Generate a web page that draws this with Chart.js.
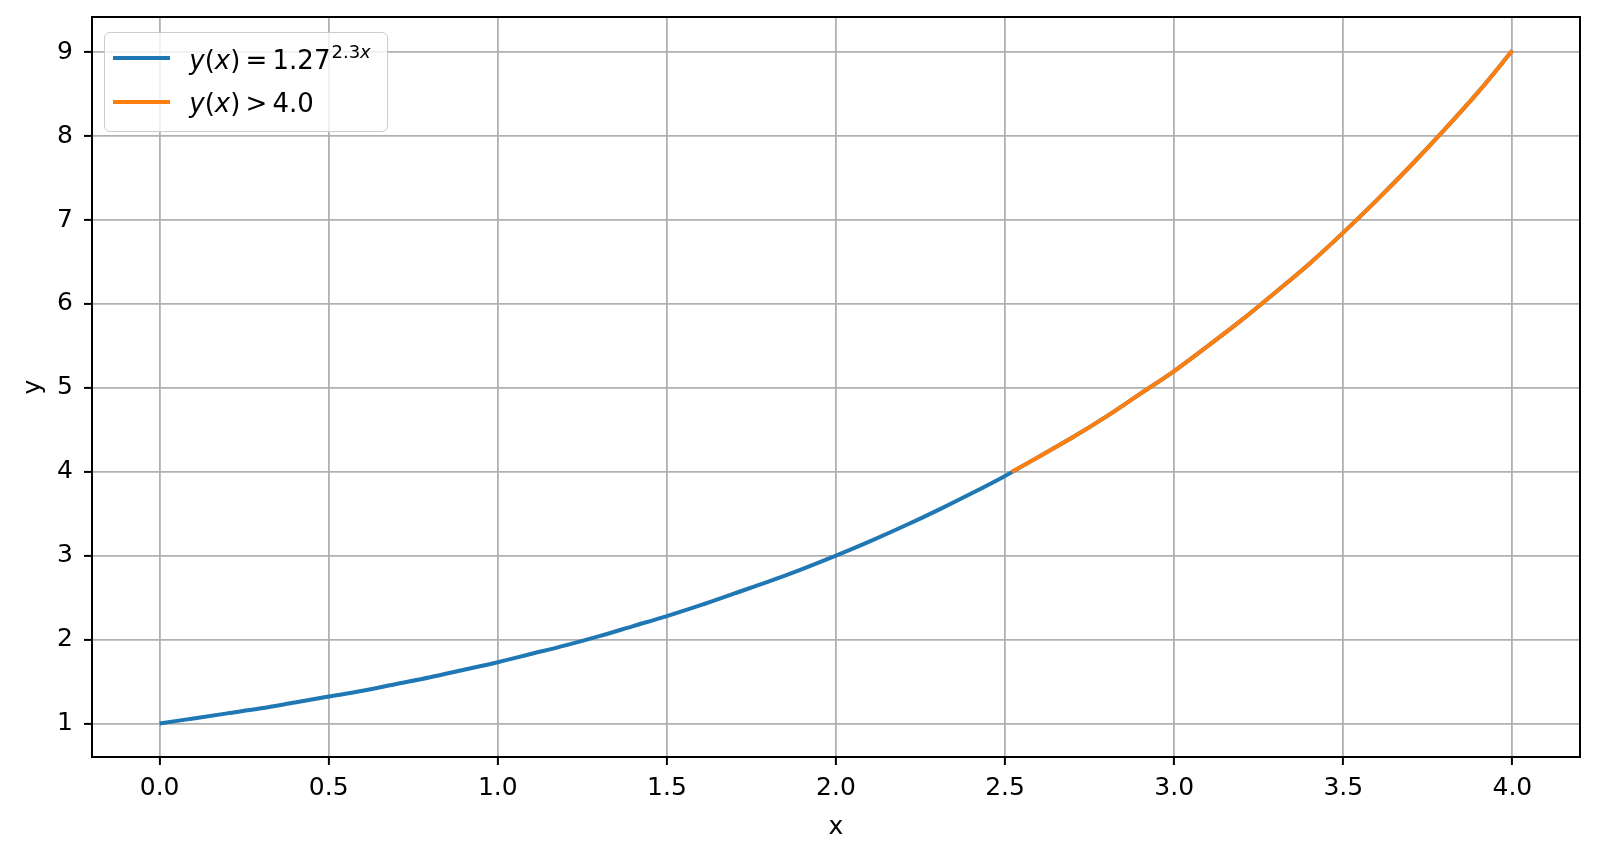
<!DOCTYPE html>
<html>
<head>
<meta charset="utf-8">
<script src="https://cdn.jsdelivr.net/npm/chart.js@4"></script>
<style>
  body { margin: 0; background: #fff; }
  #wrapper { position: relative; width: 1598px; height: 858px; }
  #legend {
    position: absolute; box-sizing: border-box;
    width: 284px; height: 100px;
    border: 1.7px solid #cccccc; border-radius: 6px;
    background: rgba(255, 255, 255, 0.8);
    font-family: "DejaVu Sans"; font-size: 26px; color: #000;
  }
  #legend .handle { position: absolute; left: 8.3px; width: 57px; height: 4px; }
  #legend .lbl { position: absolute; left: 84.3px; line-height: 30px; white-space: nowrap; }
  #legend sup { font-size: 18px; vertical-align: 0; position: relative; top: -11.7px; margin-left: 1px; }
</style>
</head>
<body>
<div id="wrapper">
  <canvas id="chart" width="1598" height="858"></canvas>
  <div id="legend"></div>
</div>
<script>
// curve y(x) = 1.27^(2.3x)
const xValues = [0.0, 0.1, 0.2, 0.3, 0.4, 0.5, 0.6, 0.7, 0.8, 0.9,
                 1.0, 1.1, 1.2, 1.3, 1.4, 1.5, 1.6, 1.7, 1.8, 1.9,
                 2.0, 2.1, 2.2, 2.3, 2.4, 2.5, 2.6, 2.7, 2.8, 2.9,
                 3.0, 3.1, 3.2, 3.3, 3.4, 3.5, 3.6, 3.7, 3.8, 3.9, 4.0];
const yValues = [1.00, 1.06, 1.12, 1.18, 1.25, 1.32, 1.39, 1.47, 1.55, 1.64,
                 1.73, 1.83, 1.93, 2.04, 2.16, 2.28, 2.41, 2.55, 2.69, 2.84,
                 3.00, 3.17, 3.35, 3.54, 3.74, 3.95, 4.18, 4.41, 4.66, 4.93,
                 5.20, 5.50, 5.81, 6.14, 6.48, 6.85, 7.24, 7.65, 8.08, 8.53, 9.02];

// part of the curve above the threshold
const xAbove = [2.52, 2.6, 2.7, 2.8, 2.9, 3.0, 3.1, 3.2, 3.3, 3.4, 3.5, 3.6, 3.7, 3.8, 3.9, 4.0];
const yAbove = [4.00, 4.18, 4.41, 4.66, 4.93, 5.20, 5.50, 5.81, 6.14, 6.48, 6.85, 7.24, 7.65, 8.08, 8.53, 9.02];

const xTicks = [0.0, 0.5, 1.0, 1.5, 2.0, 2.5, 3.0, 3.5, 4.0];
const yTicks = [1, 2, 3, 4, 5, 6, 7, 8, 9];

const seriesLabels = ['y(x) = 1.27^(2.3x)', 'y(x) > 4.0'];
const legendHtml = [
  '<i>y</i>(<i>x</i>)&#8201;=&#8201;1.27<sup>2.3<i>x</i></sup>',
  '<i>y</i>(<i>x</i>)&#8201;&gt;&#8201;4.0'
];
const colors = ['#1f77b4', '#ff7f0e'];

Chart.defaults.font.family = 'DejaVu Sans';
Chart.defaults.color = '#000';

const frame = {
  id: 'frame',
  afterDatasetsDraw(chart) {
    const a = chart.chartArea;
    const c = chart.ctx;
    c.save();
    c.strokeStyle = '#000';
    c.lineWidth = 2;
    c.strokeRect(a.left, a.top, a.right - a.left, a.bottom - a.top);
    c.restore();
  }
};

const ctx = document.querySelector('#chart').getContext('2d');
const myChart = new Chart(ctx, {
  type: 'line',
  data: {
    datasets: [
      {
        label: seriesLabels[0],
        data: xValues.map((x, i) => ({ x: x, y: yValues[i] })),
        borderColor: colors[0], backgroundColor: colors[0],
        borderWidth: 4, pointRadius: 0, cubicInterpolationMode: 'monotone',
        order: 1
      },
      {
        label: seriesLabels[1],
        data: xAbove.map((x, i) => ({ x: x, y: yAbove[i] })),
        borderColor: colors[1], backgroundColor: colors[1],
        borderWidth: 4, pointRadius: 0, cubicInterpolationMode: 'monotone',
        order: 0
      }
    ]
  },
  options: {
    responsive: false,
    animation: false,
    layout: { padding: { left: 14, right: 18, top: 17, bottom: 16 } },
    plugins: { legend: { display: false }, tooltip: { enabled: false } },
    scales: {
      x: {
        type: 'linear', min: -0.2, max: 4.2,
        afterFit: s => { s.height = 85; s.paddingLeft = 0; s.paddingRight = 0; },
        afterBuildTicks: s => { s.ticks = xTicks.map(v => ({ value: v })); },
        ticks: { font: { size: 25 }, padding: 8, maxRotation: 0,
                 callback: v => v.toFixed(1) },
        grid: { color: '#b0b0b0', lineWidth: 1.8, tickColor: '#000', tickWidth: 2, tickLength: 8 },
        border: { display: false },
        title: { display: true, text: 'x', font: { size: 25 }, padding: { top: 0, bottom: 0 } }
      },
      y: {
        type: 'linear', min: 0.6, max: 9.42,
        afterFit: s => { s.width = 78; s.paddingTop = 0; s.paddingBottom = 0; },
        afterBuildTicks: s => { s.ticks = yTicks.map(v => ({ value: v })); },
        ticks: { font: { size: 25 }, padding: 11, callback: v => String(v) },
        grid: { color: '#b0b0b0', lineWidth: 1.8, tickColor: '#000', tickWidth: 2, tickLength: 8 },
        border: { display: false },
        title: { display: true, text: 'y', font: { size: 25 }, padding: { top: 4, bottom: 0 } }
      }
    }
  },
  plugins: [frame]
});

// legend box in the upper left corner of the plot area
const legendEl = document.querySelector('#legend');
const area = myChart.chartArea;
legendEl.style.left = `${area.left + 12}px`;
legendEl.style.top = `${area.top + 15}px`;
const handleTops = [22.6, 67];
const textTops = [12.2, 54.5];
legendHtml.forEach((html, i) => {
  const handle = document.createElement('div');
  handle.className = 'handle';
  handle.style.background = colors[i];
  handle.style.top = `${handleTops[i]}px`;
  legendEl.appendChild(handle);

  const lbl = document.createElement('div');
  lbl.className = 'lbl';
  lbl.innerHTML = html;
  lbl.style.top = `${textTops[i]}px`;
  legendEl.appendChild(lbl);
});
</script>
</body>
</html>
